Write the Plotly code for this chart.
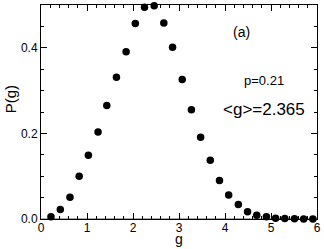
import plotly.graph_objects as go

g_vals = [0.217, 0.42, 0.63, 0.83, 1.03, 1.24, 1.43, 1.64, 1.85, 2.05, 2.25, 2.46,
          2.67, 2.86, 3.07, 3.27, 3.47, 3.68, 3.88, 4.08, 4.29, 4.49, 4.69, 4.90,
          5.10, 5.30, 5.51, 5.71, 5.91]
p_vals = [0.005, 0.022, 0.051, 0.100, 0.149, 0.203, 0.265, 0.331, 0.391, 0.457, 0.495, 0.498,
          0.458, 0.401, 0.326, 0.255, 0.191, 0.137, 0.090, 0.056, 0.034, 0.017, 0.009, 0.005,
          0.002, 0.001, 0.0005, 0.0002, 0.0001]

font_family = "Liberation Sans, Arial, sans-serif"

fig = go.Figure()
fig.add_trace(go.Scatter(
    x=g_vals, y=p_vals, mode="markers",
    marker=dict(color="black", size=7.5, line=dict(width=0)),
    cliponaxis=False, showlegend=False, hoverinfo="skip",
))

fig.update_layout(
    width=324, height=249,
    margin=dict(l=41, r=7, t=5, b=30, autoexpand=False),
    paper_bgcolor="white", plot_bgcolor="white",
    font=dict(family=font_family, color="black", size=12),
    xaxis=dict(
        range=[0, 6], dtick=1, tick0=0, showgrid=False, zeroline=False,
        showline=True, linecolor="black", linewidth=1, mirror="allticks",
        ticks="inside", ticklen=6, tickwidth=1, tickcolor="black",
        minor=dict(dtick=0.2, ticks="inside", ticklen=3, tickcolor="black", showgrid=False),
        tickfont=dict(size=12), automargin=False, ticklabeloverflow="allow",
        ticklabelstandoff=-2,
    ),
    yaxis=dict(
        range=[0, 0.5], dtick=0.2, tick0=0, tickformat=".1f", showgrid=False, zeroline=False,
        showline=True, linecolor="black", linewidth=1, mirror="allticks",
        ticks="inside", ticklen=6, tickwidth=1, tickcolor="black",
        minor=dict(dtick=0.05, ticks="inside", ticklen=3, tickcolor="black", showgrid=False),
        tickfont=dict(size=12), automargin=False, ticklabeloverflow="allow",
        ticklabelstandoff=0,
    ),
    shapes=[dict(type="line", xref="paper", yref="y", x0=0, x1=1, y0=0, y1=0,
                 line=dict(color="#aaaaaa", width=2), layer="below")],
    annotations=[
        dict(text="g", xref="paper", yref="paper", x=0.5, y=-0.095,
             showarrow=False, font=dict(size=14), xanchor="center", yanchor="middle"),
        dict(text="P(g)", xref="paper", yref="paper", x=-0.112, y=0.56, textangle=-90,
             showarrow=False, font=dict(size=15), xanchor="center", yanchor="middle"),
        dict(text="(a)", xref="paper", yref="paper", x=0.727, y=0.875,
             showarrow=False, font=dict(size=14), xanchor="center", yanchor="middle"),
        dict(text="p=0.21", xref="paper", yref="paper", x=0.807, y=0.645,
             showarrow=False, font=dict(size=13), xanchor="center", yanchor="middle"),
        dict(text="&lt;g&gt;=2.365", xref="paper", yref="paper", x=0.807, y=0.514,
             showarrow=False, font=dict(size=17), xanchor="center", yanchor="middle"),
    ],
)

fig.write_html("out.html", config={"displayModeBar": False},
               post_script="document.body.style.margin='0';document.body.style.padding='0';")
